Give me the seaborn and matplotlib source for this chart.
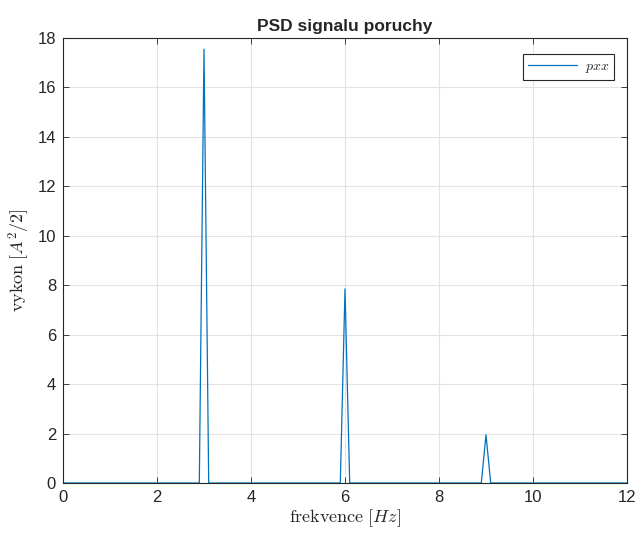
import matplotlib.pyplot as plt
import seaborn as sns
import pandas as pd

# PSD values (peaks at 3, 6 and 9 Hz)
freq = [0.0, 2.9, 3.0, 3.1, 5.9, 6.0, 6.1, 8.9, 9.0, 9.1, 12.0]
pxx = [0.0, 0.0, 17.55, 0.0, 0.0, 7.85, 0.0, 0.0, 1.95, 0.0, 0.0]

x_ticks = [0, 2, 4, 6, 8, 10, 12]
y_ticks = [0, 2, 4, 6, 8, 10, 12, 14, 16, 18]

sns.set_theme(style="whitegrid")
plt.rcParams['font.family'] = ['Liberation Sans', 'DejaVu Sans']
plt.rcParams['mathtext.fontset'] = 'cm'

df = pd.DataFrame({'f': freq, 'pxx': pxx})

fig = plt.figure(figsize=(6.39, 5.33), dpi=100)
ax = fig.add_axes([63 / 639, 50 / 533, 564 / 639, 445 / 533])

sns.lineplot(data=df, x='f', y='pxx', ax=ax, color='#0072BD', linewidth=0.9,
             label='$pxx$')

ax.set_xlim(0, 12)
ax.set_ylim(0, 18)
ax.set_xticks(x_ticks)
ax.set_yticks(y_ticks)
ax.grid(True, color='#e3e3e3', linewidth=0.8)
ax.set_facecolor('white')
for sp in ax.spines.values():
    sp.set_color('#262626')
    sp.set_linewidth(0.8)
ax.tick_params(direction='in', length=4, width=0.6, color='#262626',
               top=True, right=True, bottom=True, left=True,
               labelsize=12, labelcolor='#262626', pad=5)

ax.set_title('PSD signalu poruchy', fontsize=12.5, fontweight='bold', pad=5)
ax.set_xlabel(r'$\mathrm{frekvence}\ [Hz]$', fontsize=13, labelpad=2)
ax.set_ylabel(r'$\mathrm{vykon}\ [A^2/2]$', fontsize=13, labelpad=4)

leg = ax.legend(loc='upper right', fontsize=10, fancybox=False, framealpha=1,
                edgecolor='#262626', handlelength=3.5, borderpad=0.35,
                handletextpad=0.6, bbox_to_anchor=(0.99, 0.98))
leg.get_frame().set_linewidth(0.8)

fig.savefig('out.png', dpi=100)
